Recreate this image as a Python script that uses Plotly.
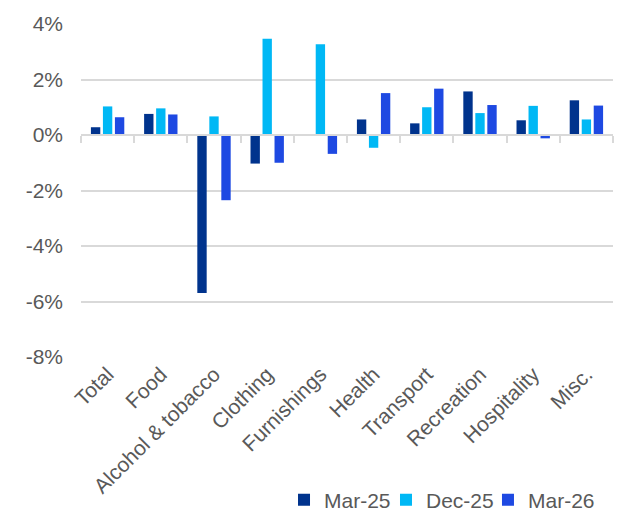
import plotly.graph_objects as go

categories = ["Total", "Food", "Alcohol & tobacco", "Clothing", "Furnishings",
              "Health", "Transport", "Recreation", "Hospitality", "Misc."]
mar25 = [0.28, 0.76, -5.69, -1.03, 0.0, 0.56, 0.42, 1.57, 0.53, 1.25]
dec25 = [1.03, 0.96, 0.67, 3.47, 3.27, -0.46, 1.00, 0.79, 1.05, 0.56]
mar26 = [0.64, 0.74, -2.35, -1.00, -0.68, 1.51, 1.67, 1.08, -0.12, 1.06]
series_names = ["Mar-25", "Dec-25", "Mar-26"]
series_colors = ["#00338D", "#00B8F5", "#1E49E2"]
y_ticks = [-8, -6, -4, -2, 0, 2, 4]
y_ticktext = ["-8%", "-6%", "-4%", "-2%", "0%", "2%", "4%"]

GRAY_TEXT = "#595959"
GRID = "#d9d9d9"
FONT = "Liberation Sans, Arial, sans-serif"

legend_ids = ["legend", "legend2", "legend3"]
legend_x = [0.3816, 0.5733, 0.765]   # paper x of each legend entry

fig = go.Figure()
for name, vals, col, lg in zip(series_names, [mar25, dec25, mar26], series_colors, legend_ids):
    fig.add_trace(go.Bar(x=categories, y=vals, name=name, legend=lg,
                         marker=dict(color=col, line=dict(width=0))))

# helper (empty) trace so the zero-line axis with boundary ticks gets drawn
fig.add_trace(go.Scatter(x=[None], y=[None], xaxis="x2", showlegend=False,
                         hoverinfo="skip", mode="markers"))

ymin, ymax = -8, 4
zero_pos = (0 - ymin) / (ymax - ymin)

legend_style = dict(orientation="h", xanchor="left", yanchor="middle", y=-0.43,
                    font=dict(size=21, color=GRAY_TEXT), bgcolor="rgba(0,0,0,0)")

fig.update_layout(
    template="none",
    width=624, height=511,
    margin=dict(l=81, r=11, t=24, b=154, autoexpand=False),
    paper_bgcolor="white", plot_bgcolor="white",
    font=dict(family=FONT, size=21, color=GRAY_TEXT),
    barmode="group", bargap=0.323, bargroupgap=0.22,
    showlegend=True,
    legend=dict(x=legend_x[0], **legend_style),
    legend2=dict(x=legend_x[1], **legend_style),
    legend3=dict(x=legend_x[2], **legend_style),
    xaxis=dict(type="category", tickangle=-45, showgrid=False, showline=False,
               ticks="", zeroline=False, automargin=False,
               tickfont=dict(size=21, color=GRAY_TEXT)),
    xaxis2=dict(overlaying="x", anchor="free", position=zero_pos,
                range=[-0.5, len(categories) - 0.5], type="linear",
                tickvals=[i - 0.5 for i in range(len(categories) + 1)],
                ticks="outside", ticklen=7, tickwidth=2, tickcolor=GRID,
                showline=True, linecolor=GRID, linewidth=2, automargin=False,
                showticklabels=False, showgrid=False, zeroline=False),
    yaxis=dict(range=[ymin, ymax], tickvals=y_ticks, ticktext=y_ticktext,
               showgrid=True, gridcolor=GRID, gridwidth=2, zeroline=False,
               showline=False, ticks="", ticklabelstandoff=17, automargin=False,
               tickfont=dict(size=21, color=GRAY_TEXT)),
)

fig.write_html("out.html")
